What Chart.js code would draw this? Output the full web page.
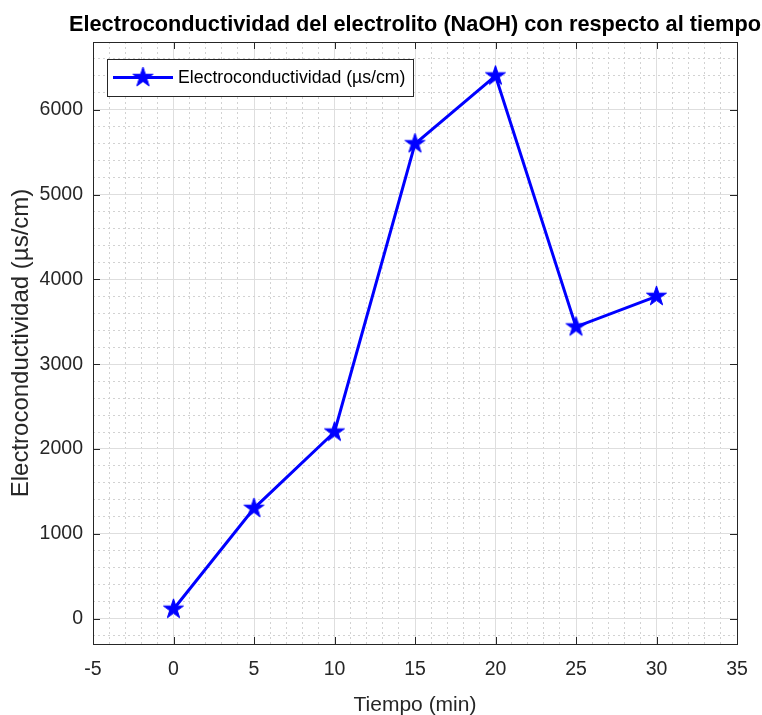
<!DOCTYPE html>
<html>
<head>
<meta charset="utf-8">
<script src="https://cdn.jsdelivr.net/npm/chart.js@4.4.1/dist/chart.umd.min.js"></script>
<style>
  html, body { margin: 0; padding: 0; background: #fff; }
</style>
</head>
<body>
<canvas id="chart" width="762" height="715"></canvas>
<script>
// data
const tiempo = [0, 5, 10, 15, 20, 25, 30];
const conductividad = [110, 1300, 2200, 5600, 6400, 3440, 3800];
const xTicks = [-5, 0, 5, 10, 15, 20, 25, 30, 35];
const yTicks = [0, 1000, 2000, 3000, 4000, 5000, 6000];

const serieLabel = "Electroconductividad (µs/cm)";
const titulo = "Electroconductividad del electrolito (NaOH) con respecto al tiempo";

const AXIS = "#262626";
const BLUE = "#0000ff";
const FONT = "'Liberation Sans', Arial, sans-serif";
const MINOR = "#d2d2d2";

// filled pentagram marker (MATLAB 'p')
function makeStar(r) {
  const s = Math.ceil(2 * r + 4);
  const c = document.createElement("canvas");
  c.width = s;
  c.height = s;
  const g = c.getContext("2d");
  g.translate(s / 2, s / 2);
  g.beginPath();
  for (let i = 0; i < 10; i++) {
    const rad = i % 2 === 0 ? r : r * 0.382;
    const a = -Math.PI / 2 + (i * Math.PI) / 5;
    g.lineTo(rad * Math.cos(a), rad * Math.sin(a));
  }
  g.closePath();
  g.fillStyle = BLUE;
  g.fill();
  g.strokeStyle = BLUE;
  g.lineWidth = 1;
  g.stroke();
  return c;
}
const star = makeStar(10.5);

// box, inward ticks, legend and title
const frame = {
  id: "frame",
  afterDraw(chart) {
    const { ctx, chartArea: a, scales } = chart;
    ctx.save();
    ctx.strokeStyle = AXIS;
    ctx.lineWidth = 1;
    const tl = 7;
    ctx.beginPath();
    xTicks.forEach((v) => {
      const px = Math.round(scales.x.getPixelForValue(v)) + 0.5;
      ctx.moveTo(px, a.bottom);
      ctx.lineTo(px, a.bottom - tl);
      ctx.moveTo(px, a.top);
      ctx.lineTo(px, a.top + tl);
    });
    yTicks.forEach((v) => {
      const py = Math.round(scales.y.getPixelForValue(v)) + 0.5;
      ctx.moveTo(a.left, py);
      ctx.lineTo(a.left + tl, py);
      ctx.moveTo(a.right, py);
      ctx.lineTo(a.right - tl, py);
    });
    ctx.stroke();
    ctx.strokeRect(Math.round(a.left) + 0.5, Math.round(a.top) + 0.5,
      Math.round(a.right - a.left), Math.round(a.bottom - a.top));

    // legend
    const lx = Math.round(a.left) + 14, ly = Math.round(a.top) + 17;
    const lw = 306, lh = 37, cy = ly + lh / 2;
    ctx.fillStyle = "#fff";
    ctx.fillRect(lx, ly, lw, lh);
    ctx.strokeStyle = AXIS;
    ctx.strokeRect(lx + 0.5, ly + 0.5, lw, lh);
    ctx.strokeStyle = BLUE;
    ctx.lineWidth = 3;
    ctx.beginPath();
    ctx.moveTo(lx + 6, cy);
    ctx.lineTo(lx + 66, cy);
    ctx.stroke();
    ctx.drawImage(star, lx + 36 - star.width / 2, cy - star.height / 2);
    ctx.fillStyle = "#000";
    ctx.font = "17.7px " + FONT;
    ctx.textBaseline = "middle";
    ctx.textAlign = "left";
    ctx.fillText(serieLabel, lx + 71, cy + 1);

    // title, condensed to the axes width like the original
    ctx.font = "bold 22px " + FONT;
    ctx.fillStyle = "#000";
    ctx.textAlign = "center";
    ctx.textBaseline = "alphabetic";
    const w = ctx.measureText(titulo).width;
    const sx = Math.min(1, 692 / w);
    ctx.translate((a.left + a.right) / 2, 31);
    ctx.scale(sx, 1);
    ctx.fillText(titulo, 0, 0);
    ctx.restore();
  },
};

new Chart(document.getElementById("chart"), {
  type: "line",
  data: {
    datasets: [
      {
        label: serieLabel,
        data: tiempo.map((t, i) => ({ x: t, y: conductividad[i] })),
        borderColor: BLUE,
        backgroundColor: BLUE,
        borderWidth: 3,
        pointStyle: star,
        pointRadius: 10,
        tension: 0,
        fill: false,
      },
    ],
  },
  options: {
    responsive: false,
    animation: false,
    layout: { padding: { top: 42, right: 25, left: 0, bottom: 0 } },
    plugins: {
      legend: { display: false },
      title: { display: false },
      tooltip: { enabled: false },
    },
    scales: {
      x: {
        type: "linear",
        position: "bottom",
        min: -5,
        max: 35,
        afterBuildTicks: (s) => { s.ticks = xTicks.map((v) => ({ value: v })); },
        ticks: {
          color: AXIS,
          font: { family: FONT, size: 19.5 },
          padding: 14,
          maxRotation: 0,
          callback: (v) => String(v),
        },
        grid: { color: "#dedede", drawTicks: false },
        border: { display: false },
        title: {
          display: true,
          text: "Tiempo (min)",
          color: AXIS,
          font: { family: FONT, size: 21, lineHeight: 0.9 },
          padding: 0,
        },
        afterFit: (s) => { s.height = 71; },
      },
      xMinor: {
        type: "linear",
        position: "bottom",
        min: -5,
        max: 35,
        ticks: { stepSize: 1, display: false },
        grid: {
          drawTicks: false,
          color: (c) => (c.tick.value % 5 === 0 ? "rgba(0,0,0,0)" : MINOR),
        },
        border: { display: false, dash: [2, 3] },
        afterFit: (s) => { s.height = 0; },
      },
      y: {
        type: "linear",
        position: "left",
        min: -300,
        max: 6800,
        afterBuildTicks: (s) => { s.ticks = yTicks.map((v) => ({ value: v })); },
        ticks: {
          color: AXIS,
          font: { family: FONT, size: 19.5 },
          padding: 10,
          callback: (v) => String(v),
        },
        grid: { color: "#dedede", drawTicks: false },
        border: { display: false },
        title: {
          display: true,
          text: "Electroconductividad (µs/cm)",
          color: AXIS,
          font: { family: FONT, size: 24 },
          padding: { top: 7, bottom: 0 },
        },
        afterFit: (s) => { s.width = 93; },
      },
      yMinor: {
        type: "linear",
        position: "left",
        min: -300,
        max: 6800,
        ticks: { stepSize: 200, includeBounds: false, display: false },
        grid: {
          drawTicks: false,
          color: (c) => (c.tick.value % 1000 === 0 ? "rgba(0,0,0,0)" : MINOR),
        },
        border: { display: false, dash: [2, 3] },
        afterFit: (s) => { s.width = 0; },
      },
    },
  },
  plugins: [frame],
});
</script>
</body>
</html>
